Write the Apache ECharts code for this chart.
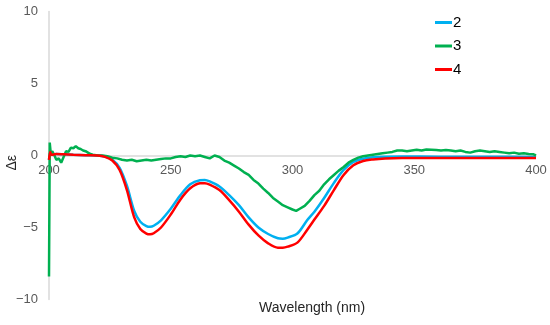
<!DOCTYPE html>
<html>
<head>
<meta charset="utf-8">
<script src="https://cdn.jsdelivr.net/npm/echarts@6/dist/echarts.min.js"></script>
<style>html,body{margin:0;padding:0;background:#fff;}#c{width:550px;height:325px;}</style>
</head>
<body>
<div id="c"></div>
<script>
var seriesNames = ['2', '3', '4'];
var xTicks = [200, 250, 300, 350, 400];
var yTicks = [-10, -5, 0, 5, 10];

var wl = [200,200.5,201,203,206,210,215,220,223,226,229,232,235,237.5,240,241.5,243,246,250,254,258,262,264,266,270,274,278,282,286,290,294,296,298,302,306,309,313,317,321,325,329,333,338,345,360,380,400];
var s2 = [-0.3,0.25,0.05,0.1,0.08,0.05,0.02,0.0,-0.08,-0.3,-0.85,-2.1,-3.85,-4.6,-4.9,-4.95,-4.88,-4.5,-3.7,-2.75,-2.0,-1.72,-1.7,-1.8,-2.15,-2.75,-3.45,-4.3,-5.0,-5.45,-5.75,-5.78,-5.7,-5.42,-4.5,-3.9,-2.95,-1.9,-1.0,-0.45,-0.22,-0.12,-0.08,-0.07,-0.08,-0.08,-0.1];
var s4 = [-0.3,0.25,0.05,0.1,0.08,0.05,0.02,0.0,-0.1,-0.35,-1.0,-2.4,-4.3,-5.1,-5.42,-5.47,-5.4,-5.0,-4.1,-3.05,-2.28,-1.93,-1.92,-2.02,-2.4,-3.1,-3.9,-4.8,-5.55,-6.1,-6.4,-6.4,-6.33,-6.05,-5.17,-4.45,-3.5,-2.4,-1.35,-0.68,-0.38,-0.27,-0.2,-0.17,-0.17,-0.17,-0.18];

var wl3 = [200,200.3,200.8,201.3,202,203,204,205,206,207,208,209,210,211,212,213,214,215,216,217,218,220,222,224,226,228,230,232,234,236,238,240,242,244,246,248,250,252,254,256,258,260,262,264,266,268,270,272,274,276,278,280,282,284,286,288,290,292,294,296,298,300,301.5,303,305,307,309,311,313,315,317,319,321,323,325,327,329,331,333,335,337,339,341,343,345,347,349,351,353,355,357,359,361,363,365,367,369,371,373,375,377,379,381,383,385,387,389,391,393,395,397,399,400];
var s3 = [-8.4,0.9,0.0,0.3,0.1,-0.3,-0.2,-0.5,-0.1,0.3,0.25,0.55,0.5,0.65,0.5,0.45,0.35,0.3,0.2,0.1,0.05,0.0,0.0,-0.05,-0.15,-0.2,-0.3,-0.35,-0.3,-0.4,-0.35,-0.3,-0.35,-0.3,-0.25,-0.2,-0.2,-0.1,-0.05,-0.1,0.0,-0.05,0.0,-0.1,-0.2,0.0,-0.1,-0.35,-0.5,-0.7,-0.9,-1.15,-1.35,-1.7,-1.95,-2.3,-2.6,-2.95,-3.2,-3.45,-3.6,-3.75,-3.85,-3.7,-3.5,-3.15,-2.75,-2.45,-2.0,-1.65,-1.35,-1.05,-0.8,-0.5,-0.3,-0.15,-0.05,0.0,0.05,0.1,0.15,0.2,0.25,0.35,0.35,0.3,0.35,0.4,0.35,0.42,0.4,0.38,0.35,0.38,0.35,0.3,0.35,0.25,0.2,0.3,0.35,0.3,0.25,0.3,0.25,0.2,0.15,0.2,0.12,0.15,0.1,0.08,0.0];

function pairs(xs, ys) { return xs.map(function (x, i) { return [x, ys[i]]; }); }

var chart = echarts.init(document.getElementById('c'), null, {renderer: 'canvas'});
chart.setOption({
  animation: false,
  backgroundColor: '#ffffff',
  grid: {left: 49, right: 14, top: 11.5, bottom: 25.5},
  legend: {
    orient: 'vertical', left: 430, top: 10,
    icon: 'rect', itemWidth: 17, itemHeight: 3, itemGap: 8.5,
    textStyle: {color: '#000', fontSize: 15, fontFamily: 'Liberation Sans, Arial, sans-serif', padding: [0, 0, 0, -4]},
    data: seriesNames
  },
  xAxis: {
    type: 'value', min: xTicks[0], max: xTicks[xTicks.length - 1], interval: 50,
    offset: -144,
    axisLine: {show: true, onZero: false, lineStyle: {color: '#d9d9d9', width: 1.5}},
    axisTick: {show: false},
    splitLine: {show: false},
    axisLabel: {color: '#595959', fontSize: 13, margin: 8, fontFamily: 'Liberation Sans, Arial, sans-serif'}
  },
  yAxis: {
    type: 'value', min: yTicks[0], max: yTicks[yTicks.length - 1], interval: 5,
    axisLine: {show: true, lineStyle: {color: '#d9d9d9', width: 1.5}},
    axisTick: {show: false},
    splitLine: {show: false},
    axisLabel: {color: '#595959', fontSize: 13, margin: 11, fontFamily: 'Liberation Sans, Arial, sans-serif',
      formatter: function (v) { return String(v).replace('-', '\u2212'); }}
  },
  graphic: [
    {type: 'text', left: 5, top: 155, rotation: Math.PI / 2,
      style: {text: 'Δε', fill: '#262626', font: '14px "Liberation Sans", Arial, sans-serif'}},
    {type: 'text', left: 259, top: 301,
      style: {text: 'Wavelength (nm)', fill: '#262626', font: '14px "Liberation Sans", Arial, sans-serif'}}
  ],
  series: [
    {name: seriesNames[0], type: 'line', symbol: 'none', smooth: 0.3, data: pairs(wl, s2),
      lineStyle: {color: '#00B0F0', width: 2.5}, itemStyle: {color: '#00B0F0'}},
    {name: seriesNames[1], type: 'line', symbol: 'none', data: pairs(wl3, s3),
      lineStyle: {color: '#00B050', width: 2.5}, itemStyle: {color: '#00B050'}},
    {name: seriesNames[2], type: 'line', symbol: 'none', smooth: 0.3, data: pairs(wl, s4),
      lineStyle: {color: '#FF0000', width: 2.5}, itemStyle: {color: '#FF0000'}}
  ]
});
</script>
</body>
</html>
